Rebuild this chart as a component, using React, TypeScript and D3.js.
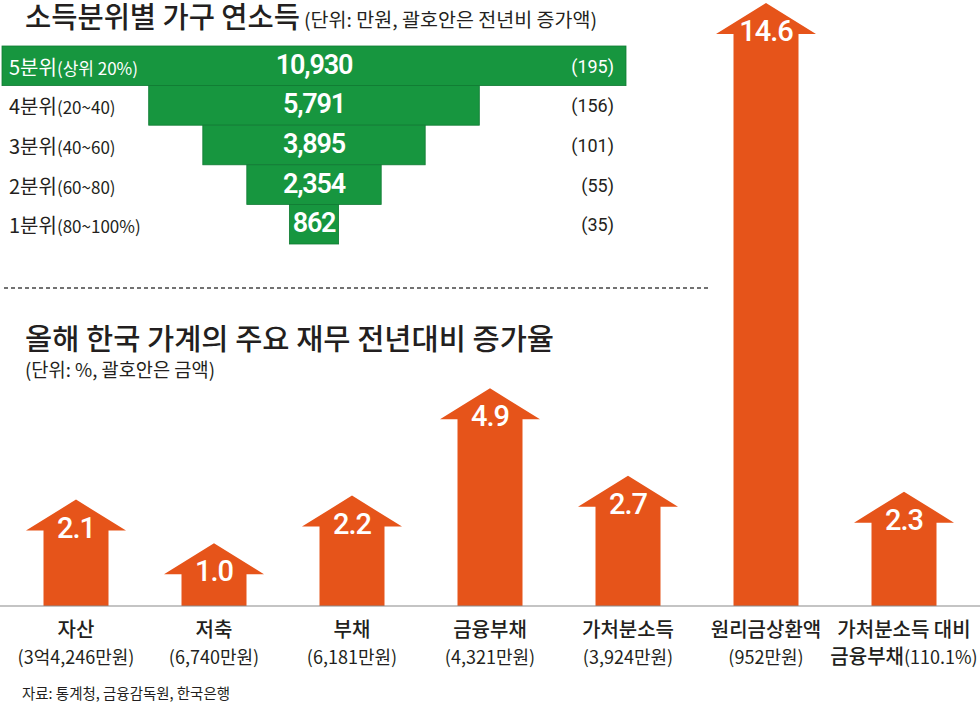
import React from "react";
import * as d3 from "d3";

const quintileLabels = ["5분위", "4분위", "3분위", "2분위", "1분위"];
const quintileRanges = ["(상위 20%)", "(20~40)", "(40~60)", "(60~80)", "(80~100%)"];
const incomes = [10930, 5791, 3895, 2354, 862];
const incomeIncrease = [195, 156, 101, 55, 35];

const itemNames = ["자산", "저축", "부채", "금융부채", "가처분소득", "원리금상환액", "가처분소득 대비"];
const itemSecondPrefix = ["", "", "", "", "", "", "금융부채"];
const itemAmounts = ["(3억4,246만원)", "(6,740만원)", "(6,181만원)", "(4,321만원)", "(3,924만원)", "(952만원)", "(110.1%)"];
const growthRates = [2.1, 1.0, 2.2, 4.9, 2.7, 14.6, 2.3];

const title1 = "소득분위별 가구 연소득";
const subtitle1 = "(단위: 만원, 괄호안은 전년비 증가액)";
const title2 = "올해 한국 가계의 주요 재무 전년대비 증가율";
const subtitle2 = "(단위: %, 괄호안은 금액)";
const source = "자료: 통계청, 금융감독원, 한국은행";

const W = 980;
const H = 704;
const KR = "'Noto Sans CJK KR', 'Noto Sans', sans-serif";
const NUM = "Roboto, 'Noto Sans', sans-serif";
const GREEN = "#17963f";
const ORANGE = "#e6541a";
const INK = "#231f20";

export default function App() {
  // funnel
  const funnelCenter = 314;
  const wScale = d3.scaleLinear().domain([0, d3.max(incomes) as number]).range([0, 624]);
  const yBand = d3.scaleBand<string>().domain(quintileLabels).range([46, 244]).padding(0);

  // arrows
  const xBand = d3.scaleBand<string>().domain(itemNames).range([7, 973]).padding(0);
  const baseY = 606;
  const yTip = d3.scaleLinear().domain([0, d3.max(growthRates) as number]).range([583, 3]);
  const headH = 31;
  const headW = 100;
  const shaftW = 65;

  const arrowPath = (cx: number, tip: number) => {
    const hb = tip + headH;
    const p = d3.path();
    p.moveTo(cx, tip);
    p.lineTo(cx + headW / 2, hb);
    p.lineTo(cx + shaftW / 2, hb);
    p.lineTo(cx + shaftW / 2, baseY);
    p.lineTo(cx - shaftW / 2, baseY);
    p.lineTo(cx - shaftW / 2, hb);
    p.lineTo(cx - headW / 2, hb);
    p.closePath();
    return p.toString();
  };

  return (
    <svg width={W} height={H} viewBox={`0 0 ${W} ${H}`} style={{ display: "block", position: "absolute", left: 0, top: 0, background: "#fff" }}>
      <rect x={0} y={0} width={W} height={H} fill="#fff" />
      {/* top title */}
      <text x={25} y={28} fontFamily={KR} fontSize={29} fontWeight={500} fill={INK} textLength={275} lengthAdjust="spacingAndGlyphs">{title1}</text>
      <text x={304} y={27} fontFamily={KR} fontSize={19} fill={INK} textLength={293} lengthAdjust="spacingAndGlyphs">{subtitle1}</text>

      {/* funnel bars */}
      {incomes.map((v, i) => {
        const lab = quintileLabels[i];
        const y = yBand(lab) as number;
        const h = yBand.bandwidth();
        const w = wScale(v);
        const top = i === 0;
        const txtCol = top ? "#fff" : INK;
        return (
          <g key={lab}>
            <rect x={funnelCenter - w / 2} y={y} width={w} height={h} fill={GREEN} stroke="#0f7a32" strokeWidth={0.8} />
            <text x={funnelCenter} y={y + h / 2 + 8} textAnchor="middle" fontFamily={NUM} fontSize={27} fontWeight={600} letterSpacing={-1.2} fill="#fff">{d3.format(",")(v)}</text>
            <text x={9} y={y + h / 2 + 9} fontFamily={KR} fill={txtCol}>
              <tspan fontSize={20}>{lab}</tspan>
              <tspan fontSize={17}>{quintileRanges[i]}</tspan>
            </text>
            <text x={614} y={y + h / 2 + 7} textAnchor="end" fontFamily={NUM} fontSize={18} fill={txtCol}>{`(${incomeIncrease[i]})`}</text>
          </g>
        );
      })}

      {/* dashed separator */}
      <line x1={4} x2={708} y1={288} y2={288} stroke="#444" strokeWidth={1.5} strokeDasharray="4,3" />

      {/* bottom title */}
      <text x={25} y={350} fontFamily={KR} fontSize={29} fontWeight={500} fill={INK} textLength={529} lengthAdjust="spacingAndGlyphs">{title2}</text>
      <text x={25} y={377} fontFamily={KR} fontSize={19} fill={INK} textLength={190} lengthAdjust="spacingAndGlyphs">{subtitle2}</text>

      {/* arrows */}
      {growthRates.map((v, i) => {
        const name = itemNames[i];
        const cx = (xBand(name) as number) + xBand.bandwidth() / 2;
        const tip = yTip(v);
        return (
          <g key={name}>
            <path d={arrowPath(cx, tip)} fill={ORANGE} />
            <text x={cx} y={tip + 38} textAnchor="middle" fontFamily={NUM} fontSize={29} fontWeight={500} letterSpacing={-1} fill="#fff">{d3.format(".1f")(v)}</text>
            <text x={cx} y={637} textAnchor="middle" fontFamily={KR} fontSize={20} fontWeight={500} fill={INK}>{name}</text>
            <text x={cx} y={664} textAnchor="middle" fontFamily={KR} fill={INK}>
              {itemSecondPrefix[i] ? <tspan fontSize={20} fontWeight={500}>{itemSecondPrefix[i]}</tspan> : null}
              <tspan fontSize={18}>{itemAmounts[i]}</tspan>
            </text>
          </g>
        );
      })}

      <line x1={0} x2={W} y1={baseY} y2={baseY} stroke="#8a8a8a" strokeWidth={1.2} />

      <text x={22} y={699} fontFamily={KR} fontSize={15} fill={INK} textLength={208} lengthAdjust="spacingAndGlyphs">{source}</text>
    </svg>
  );
}
